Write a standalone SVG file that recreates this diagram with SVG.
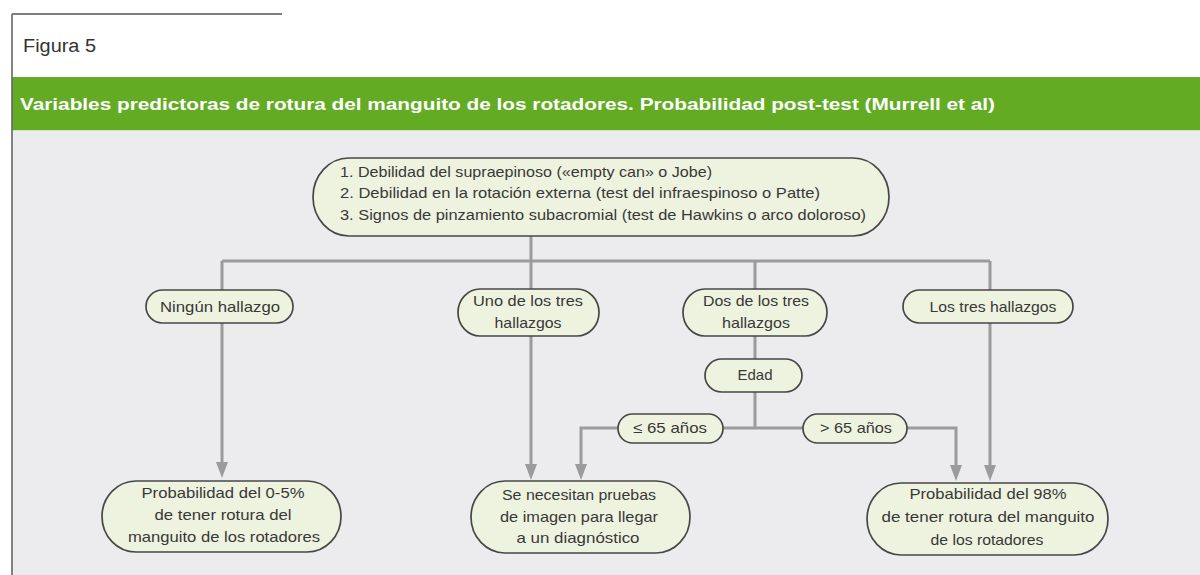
<svg xmlns="http://www.w3.org/2000/svg" width="1200" height="575" viewBox="0 0 1200 575">
<defs>
<style>
.node{fill:#eef3df;stroke:#474747;stroke-width:1.7}
.t{font-family:"Liberation Sans",Arial,sans-serif;font-size:15px;fill:#383838;text-anchor:middle}
.tl{font-family:"Liberation Sans",Arial,sans-serif;font-size:15px;fill:#383838}
.c{fill:none;stroke:#9b9b9b;stroke-width:3}
</style>
<marker id="arr" viewBox="0 0 16 12" refX="6" refY="6" markerWidth="16" markerHeight="12" markerUnits="userSpaceOnUse" orient="auto-start-reverse">
<path d="M0,0 L16,6 L0,12 Z" fill="#9b9b9b"/>
</marker>
</defs>
<rect x="0" y="0" width="1200" height="575" fill="#ffffff"/>
<rect x="12" y="131" width="1188" height="444" fill="#ececee"/>
<rect x="12" y="77" width="1188" height="54" fill="#62ab23"/>
<line x1="12" y1="130.5" x2="1200" y2="130.5" stroke="#cfe4b4" stroke-width="1"/>
<line x1="12" y1="14" x2="282" y2="14" stroke="#555" stroke-width="1.6"/>
<line x1="12" y1="14" x2="12" y2="575" stroke="#666" stroke-width="1.6"/>
<text x="23" y="52" font-family="'Liberation Sans',Arial,sans-serif" font-size="18" fill="#333" textLength="73" lengthAdjust="spacingAndGlyphs">Figura 5</text>
<text x="20" y="110" font-family="'Liberation Sans',Arial,sans-serif" font-size="17" font-weight="bold" fill="#ffffff" textLength="975" lengthAdjust="spacingAndGlyphs">Variables predictoras de rotura del manguito de los rotadores. Probabilidad post-test (Murrell et al)</text>

<g id="connectors">
<polyline class="c" points="222,261 990,261"/>
<line class="c" x1="531" y1="236" x2="531" y2="470" marker-end="url(#arr)"/>
<line class="c" x1="222" y1="261" x2="222" y2="468" marker-end="url(#arr)"/>
<line class="c" x1="755" y1="261" x2="755" y2="428"/>
<line class="c" x1="990" y1="261" x2="990" y2="471" marker-end="url(#arr)"/>
<polyline class="c" points="581,470 581,428 956,428 956,471" marker-start="url(#arr)" marker-end="url(#arr)"/>
</g>

<g id="top">
<rect class="node" x="313" y="158" width="576" height="78" rx="36" ry="39"/>
<text class="tl" x="340" y="177" textLength="372" lengthAdjust="spacingAndGlyphs">1. Debilidad del supraepinoso («empty can» o Jobe)</text>
<text class="tl" x="340" y="198" textLength="480" lengthAdjust="spacingAndGlyphs">2. Debilidad en la rotación externa (test del infraespinoso o Patte)</text>
<text class="tl" x="340" y="220" textLength="526" lengthAdjust="spacingAndGlyphs">3. Signos de pinzamiento subacromial (test de Hawkins o arco doloroso)</text>
</g>

<g id="ninguno">
<rect class="node" x="146" y="290" width="147" height="33" rx="16.5"/>
<text class="t" x="220" y="312" textLength="120" lengthAdjust="spacingAndGlyphs">Ningún hallazgo</text>
</g>
<g id="uno">
<rect class="node" x="458" y="289" width="141" height="47" rx="22" ry="23.5"/>
<text class="t" x="528" y="306" textLength="110" lengthAdjust="spacingAndGlyphs">Uno de los tres</text>
<text class="t" x="528" y="328" textLength="67" lengthAdjust="spacingAndGlyphs">hallazgos</text>
</g>
<g id="dos">
<rect class="node" x="683" y="289" width="144" height="47" rx="22" ry="23.5"/>
<text class="t" x="756" y="306" textLength="106" lengthAdjust="spacingAndGlyphs">Dos de los tres</text>
<text class="t" x="756" y="328" textLength="68" lengthAdjust="spacingAndGlyphs">hallazgos</text>
</g>
<g id="tres">
<rect class="node" x="903" y="290" width="170" height="33" rx="16.5"/>
<text class="t" x="993" y="312" textLength="127" lengthAdjust="spacingAndGlyphs">Los tres hallazgos</text>
</g>
<g id="edad">
<rect class="node" x="705" y="359" width="97" height="33" rx="16.5"/>
<text class="t" x="755" y="380" textLength="35" lengthAdjust="spacingAndGlyphs">Edad</text>
</g>
<g id="menor65">
<rect class="node" x="618" y="414" width="105" height="29" rx="14.5"/>
<text class="t" x="670" y="433" textLength="74" lengthAdjust="spacingAndGlyphs">≤ 65 años</text>
</g>
<g id="mayor65">
<rect class="node" x="803" y="414" width="104" height="29" rx="14.5"/>
<text class="t" x="856" y="433" textLength="72" lengthAdjust="spacingAndGlyphs">&gt; 65 años</text>
</g>
<g id="prob05">
<rect class="node" x="102" y="481" width="239" height="71" rx="34" ry="35.5"/>
<text class="t" x="223" y="498" textLength="163" lengthAdjust="spacingAndGlyphs">Probabilidad del 0-5%</text>
<text class="t" x="223" y="520" textLength="137" lengthAdjust="spacingAndGlyphs">de tener rotura del</text>
<text class="t" x="224" y="542" textLength="192" lengthAdjust="spacingAndGlyphs">manguito de los rotadores</text>
</g>
<g id="imagen">
<rect class="node" x="471" y="481" width="219" height="72" rx="34" ry="36"/>
<text class="t" x="579" y="500" textLength="154" lengthAdjust="spacingAndGlyphs">Se necesitan pruebas</text>
<text class="t" x="579" y="522" textLength="158" lengthAdjust="spacingAndGlyphs">de imagen para llegar</text>
<text class="t" x="578" y="543" textLength="123" lengthAdjust="spacingAndGlyphs">a un diagnóstico</text>
</g>
<g id="prob98">
<rect class="node" x="867" y="483" width="241" height="72" rx="34" ry="36"/>
<text class="t" x="988" y="499" textLength="157" lengthAdjust="spacingAndGlyphs">Probabilidad del 98%</text>
<text class="t" x="988" y="522" textLength="213" lengthAdjust="spacingAndGlyphs">de tener rotura del manguito</text>
<text class="t" x="987" y="545" textLength="113" lengthAdjust="spacingAndGlyphs">de los rotadores</text>
</g>
</svg>
